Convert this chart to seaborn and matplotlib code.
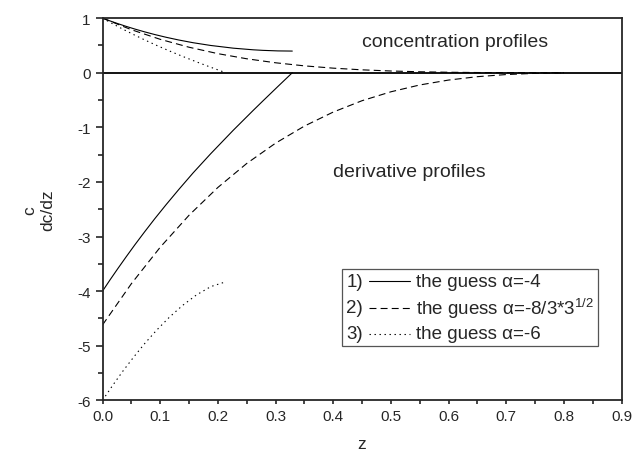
import numpy as np
import pandas as pd
import matplotlib
matplotlib.use("Agg")
import matplotlib.pyplot as plt
import seaborn as sns
from matplotlib.lines import Line2D
from matplotlib.ticker import MultipleLocator
from matplotlib.offsetbox import AnchoredOffsetbox, HPacker, VPacker, TextArea, DrawingArea

# guess 1) alpha = -4
z_solid = [0, 0.0128, 0.0264, 0.0408, 0.0561, 0.0726, 0.0904, 0.1101, 0.1320, 0.157,
           0.1873, 0.2268, 0.2614, 0.278, 0.304, 0.329]
c_solid = [1.0, 0.95, 0.9, 0.85, 0.8, 0.75, 0.7, 0.65, 0.6, 0.55,
           0.5, 0.45, 0.42, 0.41, 0.40, 0.397]
dc_solid = [-4.0, -3.797, -3.589, -3.374, -3.151, -2.919, -2.676, -2.418, -2.141, -1.835,
            -1.486, -1.052, -0.688, -0.517, -0.252, 0.0]

# guess 2) alpha = -8/3*sqrt(3)
z_dash = [0, 0.05, 0.1, 0.15, 0.2, 0.25, 0.3, 0.35, 0.4, 0.45, 0.5, 0.55, 0.6, 0.65, 0.7, 0.75, 0.8]
c_dash = [1.0, 0.7883, 0.6121, 0.4673, 0.3498, 0.2560, 0.1825, 0.1261, 0.0839, 0.0533,
          0.0319, 0.0177, 0.0089, 0.0039, 0.0014, 0.0003, 0.0]
dc_dash = [-4.619, -3.864, -3.196, -2.610, -2.101, -1.662, -1.290, -0.977, -0.720, -0.512,
           -0.349, -0.224, -0.134, -0.072, -0.033, -0.011, -0.002]

# guess 3) alpha = -6
z_dot = [0, 0.0171, 0.0349, 0.0537, 0.0733, 0.0940, 0.1158, 0.1387, 0.1627, 0.1878, 0.2136]
c_dot = [1.0, 0.9, 0.8, 0.7, 0.6, 0.5, 0.4, 0.3, 0.2, 0.1, 0.0]
dc_dot = [-6.0, -5.734, -5.471, -5.212, -4.958, -4.713, -4.479, -4.263, -4.071, -3.917, -3.830]

legend_nums = ["1)", "2)", "3)"]
legend_labels = ["the guess \u03b1=-4", "the guess \u03b1=-8/3*3$^{1/2}$", "the guess \u03b1=-6"]

sns.set_style("ticks")
plt.rcParams["font.family"] = ["Liberation Sans", "DejaVu Sans"]
plt.rcParams["mathtext.fontset"] = "custom"
plt.rcParams["mathtext.rm"] = "Liberation Sans"
plt.rcParams["mathtext.it"] = "Liberation Sans"
plt.rcParams["lines.scale_dashes"] = False

styles = ["-", (0, (5, 3)), (0, (1, 2.6))]

fig = plt.figure(figsize=(6.33, 4.56), dpi=100)
ax = fig.add_axes([0.162, 0.120, 0.820, 0.838])

series = [(z_solid, c_solid, dc_solid), (z_dash, c_dash, dc_dash), (z_dot, c_dot, dc_dot)]
for (zz, cc, dd), ls in zip(series, styles):
    for yy in (cc, dd):
        df = pd.DataFrame({"z": zz, "y": yy})
        sns.lineplot(data=df, x="z", y="y", ax=ax, color="black", lw=0.8,
                     linestyle=ls, sort=False, estimator=None)

ax.axhline(0, color="black", lw=1.3)
ax.set_xlim(0, 0.9)
ax.set_ylim(-6, 1)
ax.xaxis.set_major_locator(MultipleLocator(0.1))
ax.xaxis.set_minor_locator(MultipleLocator(0.05))
ax.yaxis.set_major_locator(MultipleLocator(1))
ax.yaxis.set_minor_locator(MultipleLocator(0.5))
ax.xaxis.set_major_formatter(plt.FuncFormatter(lambda v, p: f"{v:.1f}"))
ax.yaxis.set_major_formatter(plt.FuncFormatter(lambda v, p: f"{v:.0f}"))
for s in ax.spines.values():
    s.set_linewidth(1.3)
ax.tick_params(axis="y", which="major", length=5, width=1.2, labelsize=11, direction="out")
ax.tick_params(axis="y", which="minor", length=3.5, width=1.2, direction="out")
ax.tick_params(axis="x", which="both", length=3, width=1.2, labelsize=11, direction="out")
ax.set_xlabel("z", fontsize=12.5, labelpad=9)
ax.set_ylabel("c\ndc/dz", fontsize=12.5, labelpad=16)

ax.text(0.45, 0.57, "concentration profiles", fontsize=14, va="center", ha="left")
ax.text(0.40, -1.81, "derivative profiles", fontsize=14, va="center", ha="left")

tp = dict(fontsize=13.5)
rows = []
for num, ls, lab in zip(legend_nums, styles, legend_labels):
    da = DrawingArea(30, 8, 0, 0)
    da.add_artist(Line2D([0, 30], [4, 4], color="black", lw=0.8, linestyle=ls))
    rows.append(HPacker(children=[TextArea(num, textprops=tp), da, TextArea(lab, textprops=tp)],
                        align="center", pad=0, sep=4))
box = VPacker(children=rows, align="left", pad=0, sep=4)
anch = AnchoredOffsetbox(loc="upper right", child=box, pad=0.3, frameon=True,
                         bbox_to_anchor=(0.955, 0.344), bbox_transform=ax.transAxes, borderpad=0)
anch.patch.set_edgecolor("#555555")
anch.patch.set_linewidth(0.9)
ax.add_artist(anch)

fig.savefig("out.png", dpi=100)
